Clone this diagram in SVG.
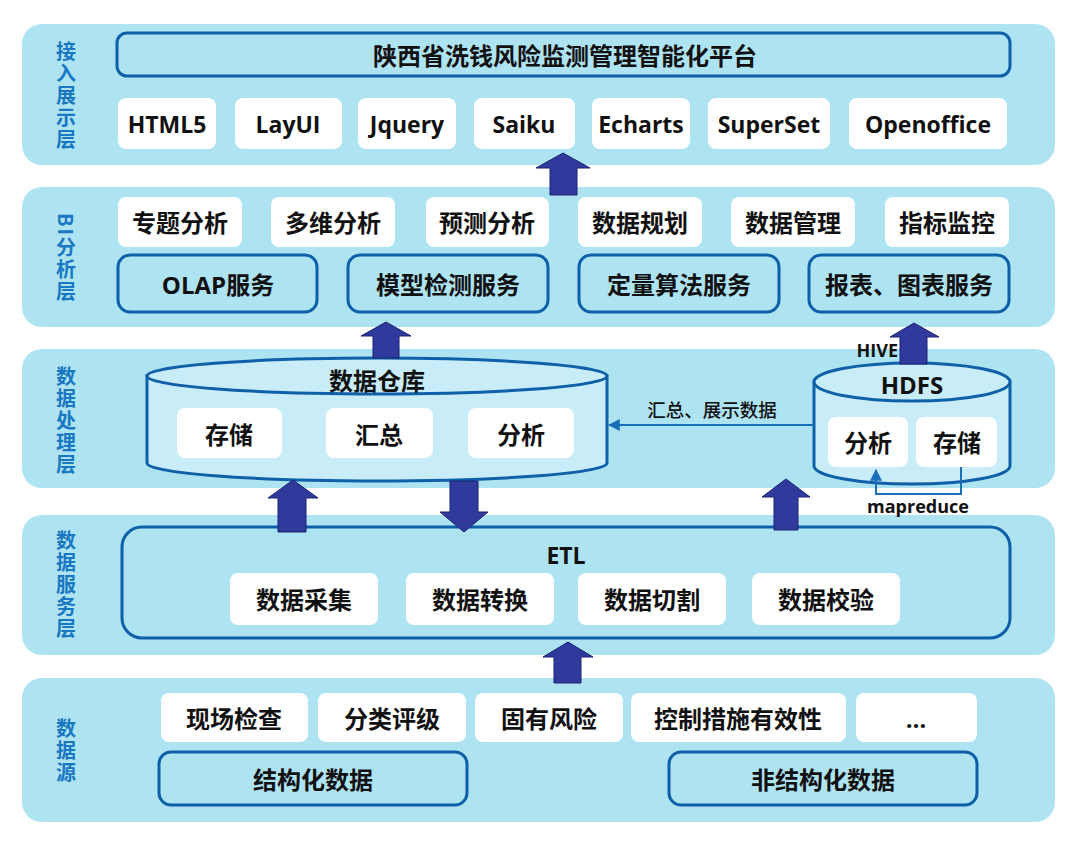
<svg xmlns="http://www.w3.org/2000/svg" width="1080" height="847" viewBox="0 0 1080 847">
<style>
.band{fill:#aee3f2}
.wbox{fill:#ffffff}
.obox{fill:#aee3f2;stroke:#0f60a8;stroke-width:3}
.cyl{fill:#c8ecf8;stroke:#0f60a8;stroke-width:3}
.t{font-family:"Open Sans","Noto Sans CJK SC",sans-serif;font-weight:700;fill:#111;text-anchor:middle;dominant-baseline:central}
.t22{font-size:23px}
.t24{font-size:24px}
.side{font-family:"Noto Sans CJK SC","Open Sans",sans-serif;font-weight:700;font-size:20px;fill:#1a78c2;text-anchor:middle;writing-mode:vertical-rl;letter-spacing:2px}
.small{font-family:"Open Sans","Noto Sans CJK SC",sans-serif;font-weight:700;font-size:18px;fill:#111;dominant-baseline:central}
.fat{fill:#2f3a9c;stroke:#1b2372;stroke-width:1}
.thin{fill:none;stroke:#1a6fb8;stroke-width:2}
</style>
<defs>
<marker id="ah" viewBox="0 0 10 10" refX="9" refY="5" markerWidth="6" markerHeight="6" orient="auto-start-reverse">
<path d="M0,0 L10,5 L0,10 z" fill="#1a6fb8"/>
</marker>
</defs>
<rect width="1080" height="847" fill="#ffffff"/>

<!-- Layer 1 -->
<g id="layer-access">
<rect class="band" x="22" y="24" width="1033" height="141" rx="20"/>
<text class="side" x="66" y="96">接入展示层</text>
</g>
<g id="platform-title">
<rect class="obox" x="117" y="33" width="893" height="43" rx="10"/>
<text class="t t24" x="565" y="55">陕西省洗钱风险监测管理智能化平台</text>
</g>
<g id="html5"><rect class="wbox" x="118" y="98" width="98" height="51" rx="8"/><text class="t t22" x="167" y="124">HTML5</text></g>
<g id="layui"><rect class="wbox" x="235" y="98" width="107" height="51" rx="8"/><text class="t t22" x="288" y="124">LayUI</text></g>
<g id="jquery"><rect class="wbox" x="358" y="98" width="98" height="51" rx="8"/><text class="t t22" x="407" y="124">Jquery</text></g>
<g id="saiku"><rect class="wbox" x="474" y="98" width="101" height="51" rx="8"/><text class="t t22" x="524" y="124">Saiku</text></g>
<g id="echarts"><rect class="wbox" x="592" y="98" width="98" height="51" rx="8"/><text class="t t22" x="641" y="124">Echarts</text></g>
<g id="superset"><rect class="wbox" x="708" y="98" width="122" height="51" rx="8"/><text class="t t22" x="769" y="124">SuperSet</text></g>
<g id="openoffice"><rect class="wbox" x="849" y="98" width="158" height="51" rx="8"/><text class="t t22" x="928" y="124">Openoffice</text></g>

<!-- Layer 2 -->
<g id="layer-bi">
<rect class="band" x="22" y="187" width="1033" height="140" rx="20"/>
<text class="side" x="66" y="258">BI分析层</text>
</g>
<g id="bi1"><rect class="wbox" x="118" y="197" width="124" height="50" rx="8"/><text class="t t24" x="180" y="222">专题分析</text></g>
<g id="bi2"><rect class="wbox" x="271" y="197" width="124" height="50" rx="8"/><text class="t t24" x="333" y="222">多维分析</text></g>
<g id="bi3"><rect class="wbox" x="426" y="197" width="123" height="50" rx="8"/><text class="t t24" x="487" y="222">预测分析</text></g>
<g id="bi4"><rect class="wbox" x="578" y="197" width="124" height="50" rx="8"/><text class="t t24" x="640" y="222">数据规划</text></g>
<g id="bi5"><rect class="wbox" x="731" y="197" width="124" height="50" rx="8"/><text class="t t24" x="793" y="222">数据管理</text></g>
<g id="bi6"><rect class="wbox" x="885" y="197" width="124" height="50" rx="8"/><text class="t t24" x="947" y="222">指标监控</text></g>
<g id="olap"><rect class="obox" x="118" y="255" width="199" height="57" rx="12"/><text class="t t24" x="218" y="284">OLAP服务</text></g>
<g id="model"><rect class="obox" x="348" y="255" width="200" height="57" rx="12"/><text class="t t24" x="448" y="284">模型检测服务</text></g>
<g id="quant"><rect class="obox" x="579" y="255" width="200" height="57" rx="12"/><text class="t t24" x="679" y="284">定量算法服务</text></g>
<g id="report"><rect class="obox" x="809" y="255" width="200" height="57" rx="12"/><text class="t t24" x="909" y="284">报表、图表服务</text></g>

<!-- Layer 3 -->
<g id="layer-processing">
<rect class="band" x="22" y="349" width="1033" height="139" rx="20"/>
<text class="side" x="66" y="421">数据处理层</text>
</g>
<g id="warehouse">
<path class="cyl" d="M147 376 L147 463 A230 18 0 0 0 607 463 L607 376 Z"/>
<ellipse class="cyl" cx="377" cy="376" rx="230" ry="18"/>
<text class="t t24" x="377" y="380">数据仓库</text>
<rect class="wbox" x="177" y="408" width="105" height="50" rx="8"/><text class="t t24" x="229" y="434">存储</text>
<rect class="wbox" x="326" y="408" width="107" height="50" rx="8"/><text class="t t24" x="379" y="434">汇总</text>
<rect class="wbox" x="468" y="408" width="106" height="50" rx="8"/><text class="t t24" x="521" y="434">分析</text>
</g>
<g id="hdfs">
<path class="cyl" d="M814 382 L814 466 A98 18 0 0 0 1010 466 L1010 382 Z"/>
<ellipse class="cyl" cx="912" cy="382" rx="98" ry="19"/>
<text class="t t24" x="912" y="384">HDFS</text>
<rect class="wbox" x="828" y="417" width="80" height="50" rx="8"/><text class="t t24" x="868" y="442">分析</text>
<rect class="wbox" x="916" y="417" width="81" height="50" rx="8"/><text class="t t24" x="957" y="442">存储</text>
</g>

<!-- Layer 4 -->
<g id="layer-service">
<rect class="band" x="22" y="515" width="1033" height="140" rx="20"/>
<text class="side" x="66" y="585">数据服务层</text>
</g>
<g id="etl">
<rect class="obox" x="122" y="527" width="888" height="111" rx="20"/>
<text class="t t22" x="566" y="555">ETL</text>
</g>
<g id="etl1"><rect class="wbox" x="230" y="573" width="148" height="52" rx="8"/><text class="t t24" x="304" y="599">数据采集</text></g>
<g id="etl2"><rect class="wbox" x="406" y="573" width="148" height="52" rx="8"/><text class="t t24" x="480" y="599">数据转换</text></g>
<g id="etl3"><rect class="wbox" x="578" y="573" width="148" height="52" rx="8"/><text class="t t24" x="652" y="599">数据切割</text></g>
<g id="etl4"><rect class="wbox" x="752" y="573" width="148" height="52" rx="8"/><text class="t t24" x="826" y="599">数据校验</text></g>

<!-- Layer 5 -->
<g id="layer-source">
<rect class="band" x="22" y="678" width="1033" height="144" rx="20"/>
<text class="side" x="66" y="751">数据源</text>
</g>
<g id="src1"><rect class="wbox" x="161" y="693" width="147" height="49" rx="8"/><text class="t t24" x="234" y="718">现场检查</text></g>
<g id="src2"><rect class="wbox" x="318" y="693" width="148" height="49" rx="8"/><text class="t t24" x="392" y="718">分类评级</text></g>
<g id="src3"><rect class="wbox" x="475" y="693" width="148" height="49" rx="8"/><text class="t t24" x="549" y="718">固有风险</text></g>
<g id="src4"><rect class="wbox" x="631" y="693" width="215" height="49" rx="8"/><text class="t t24" x="738" y="718">控制措施有效性</text></g>
<g id="src5"><rect class="wbox" x="856" y="693" width="121" height="49" rx="8"/><text class="t t24" x="916" y="718">…</text></g>
<g id="structured"><rect class="obox" x="159" y="752" width="308" height="53" rx="12"/><text class="t t24" x="313" y="779">结构化数据</text></g>
<g id="unstructured"><rect class="obox" x="669" y="752" width="308" height="53" rx="12"/><text class="t t24" x="823" y="779">非结构化数据</text></g>

<!-- Connectors -->
<g id="connectors">
<polygon class="fat" points="563,153 590,168 577,168 577,195 550,195 550,168 536,168"/>
<polygon class="fat" points="386,322 411,336 399,336 399,358 373,358 373,336 361,336"/>
<polygon class="fat" points="914,323 939,337 927,337 927,364 900,364 900,337 890,337"/>
<polygon class="fat" points="293,480 318,498 306,498 306,532 278,532 278,498 268,498"/>
<polygon class="fat" points="464,532 488,512 478,512 478,481 450,481 450,512 440,512"/>
<polygon class="fat" points="786,479 810,497 798,497 798,530 774,530 774,497 762,497"/>
<polygon class="fat" points="568,642 593,657 581,657 581,683 554,683 554,657 543,657"/>
<line class="thin" x1="814" y1="425" x2="609" y2="425" marker-end="url(#ah)"/>
<text class="small" x="712" y="409" text-anchor="middle" style="font-weight:500;font-size:18.5px">汇总、展示数据</text>
<path class="thin" d="M961 467 L961 494 L876 494 L876 470" marker-end="url(#ah)"/>
<text class="small" x="918" y="506" text-anchor="middle">mapreduce</text>
<text class="small" x="898" y="350" text-anchor="end">HIVE</text>
</g>
</svg>
